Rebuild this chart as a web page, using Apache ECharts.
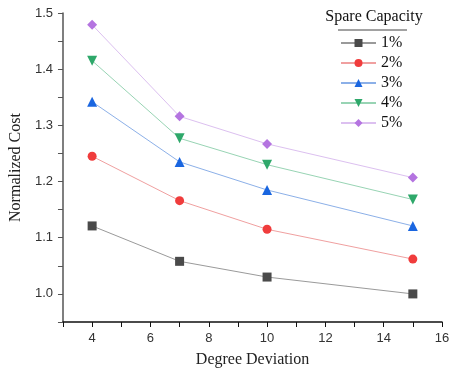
<!DOCTYPE html>
<html>
<head>
<meta charset="utf-8">
<script src="https://cdn.jsdelivr.net/npm/echarts@6/dist/echarts.min.js"></script>
<style>
  html, body { margin: 0; padding: 0; background: #fff; }
  #main { width: 457px; height: 378px; }
</style>
</head>
<body>
<div id="main"></div>
<script>
// 数据
const degrees = [4, 7, 10, 15];
const seriesNames = ['1%', '2%', '3%', '4%', '5%'];
const cost1 = [1.121, 1.058, 1.030, 1.000];
const cost2 = [1.245, 1.166, 1.115, 1.062];
const cost3 = [1.342, 1.235, 1.185, 1.121];
const cost4 = [1.415, 1.277, 1.230, 1.168];
const cost5 = [1.479, 1.316, 1.267, 1.207];

const serif = 'Liberation Serif';
const sans = 'Liberation Sans';

// 样式: 标记颜色, 线颜色, 符号
const styles = [
  { color: '#4a4a4a', line: '#9a9a9a', symbol: 'rect', size: 9 },
  { color: '#f03c3c', line: '#f0a0a0', symbol: 'circle', size: 9 },
  { color: '#1a66e0', line: '#8cb0e8', symbol: 'triangle', size: 10 },
  { color: '#2ea86a', line: '#98d4b4', symbol: 'path://M0,0 L10,0 L5,9 Z', size: 10 },
  { color: '#b474e0', line: '#dcc0f0', symbol: 'diamond', size: 10 }
];

const allCosts = [cost1, cost2, cost3, cost4, cost5];

const chart = echarts.init(document.getElementById('main'), null, { renderer: 'canvas' });

const option = {
  animation: false,
  backgroundColor: '#fff',
  grid: { left: 58, top: 13, right: 15, bottom: 56 },
  graphic: [
    {
      type: 'text',
      x: 374,
      y: 9,
      style: { text: 'Spare Capacity', font: '16px "' + serif + '"', fill: '#111', textAlign: 'center' }
    },
    {
      type: 'line',
      shape: { x1: 338, y1: 30, x2: 407, y2: 30 },
      style: { stroke: '#444', lineWidth: 1 }
    }
  ],
  legend: {
    orient: 'vertical',
    left: 335,
    top: 30,
    itemWidth: 35,
    itemHeight: 10,
    itemGap: 4,
    textStyle: { fontFamily: serif, fontSize: 16, color: '#111' },
    data: seriesNames
  },
  xAxis: {
    type: 'value',
    min: 3,
    max: 16,
    interval: 1,
    name: 'Degree Deviation',
    nameLocation: 'middle',
    nameGap: 30,
    nameTextStyle: { fontFamily: serif, fontSize: 16, color: '#222' },
    axisLine: { lineStyle: { color: '#111', width: 1.5 } },
    axisTick: { length: 5, lineStyle: { color: '#111' } },
    axisLabel: {
      margin: 10,
      fontFamily: sans,
      fontSize: 13,
      color: '#333',
      formatter: function (v) { return v % 2 === 0 ? String(v) : ''; }
    },
    splitLine: { show: false }
  },
  yAxis: {
    type: 'value',
    min: 0.95,
    max: 1.5,
    interval: 0.05,
    name: 'Normalized Cost',
    nameLocation: 'middle',
    nameGap: 31,
    nameTextStyle: { fontFamily: serif, fontSize: 16, color: '#222' },
    axisLine: { show: true, lineStyle: { color: '#555', width: 1.5 } },
    axisTick: { show: true, length: 5, lineStyle: { color: '#555' } },
    axisLabel: {
      margin: 10,
      fontFamily: sans,
      fontSize: 13,
      color: '#333',
      formatter: function (v) {
        const k = Math.round(v * 100);
        return k % 10 === 0 ? (k / 100).toFixed(1) : '';
      }
    },
    splitLine: { show: false }
  },
  series: seriesNames.map(function (name, i) {
    const s = styles[i];
    return {
      name: name,
      type: 'line',
      data: degrees.map(function (d, j) { return [d, allCosts[i][j]]; }),
      symbol: s.symbol,
      symbolSize: s.size,
      itemStyle: { color: s.color },
      lineStyle: { color: s.line, width: 1 }
    };
  })
};

chart.setOption(option);
</script>
</body>
</html>
